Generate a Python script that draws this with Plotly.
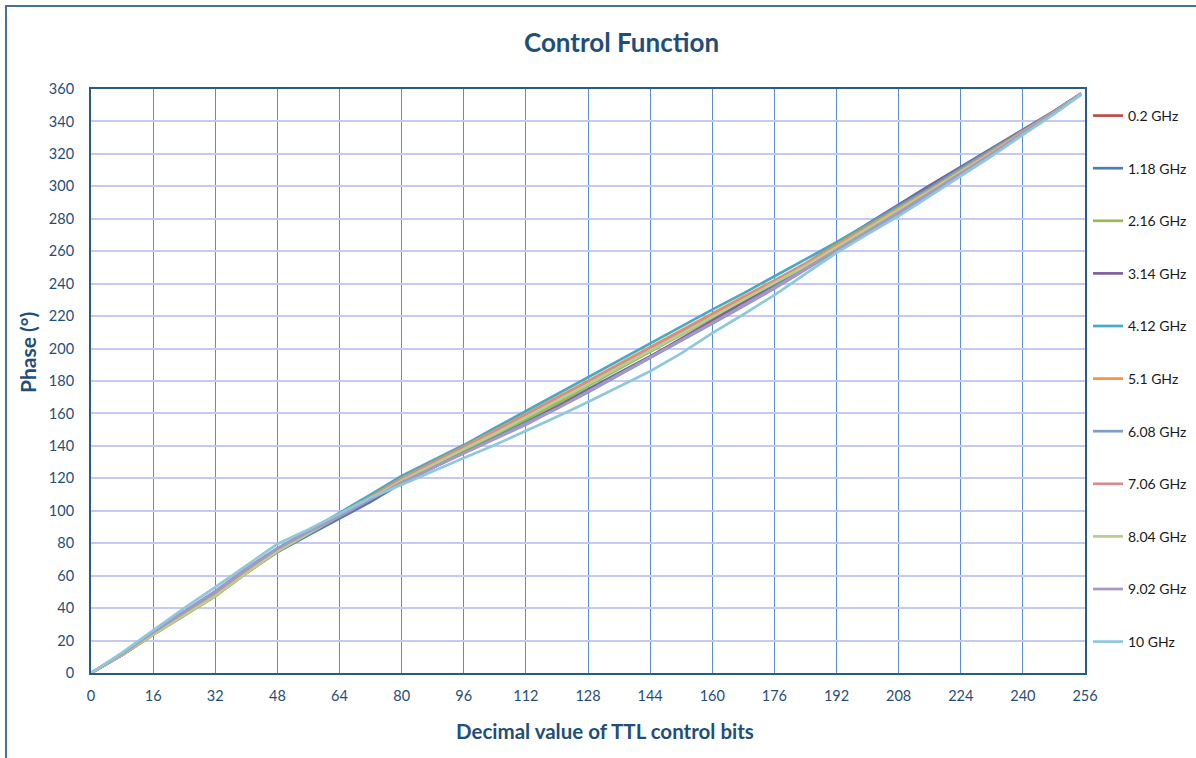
import plotly.graph_objects as go

# TTL control value (x) sample points
ttl = [0, 8, 16, 24, 32, 40, 48, 56, 64, 72, 80, 88, 96, 104, 112, 120, 128,
       136, 144, 152, 160, 168, 176, 184, 192, 200, 208, 216, 224, 232, 240, 248, 255]

series_names = ["0.2 GHz", "1.18 GHz", "2.16 GHz", "3.14 GHz", "4.12 GHz", "5.1 GHz",
                "6.08 GHz", "7.06 GHz", "8.04 GHz", "9.02 GHz", "10 GHz"]

phase_0_2 = [0, 11.0, 23.7, 35.5, 47.5, 61.5, 75.0, 86.5, 97.0, 107.5, 118.5, 128.0, 137.5, 147.5, 157.0, 167.0, 178.0,
             188.5, 199.0, 209.5, 219.5, 230.0, 240.5, 251.5, 263.5, 275.0, 286.5, 298.0, 310.0, 322.0, 334.0, 345.8, 357.0]
phase_1_18 = [0, 11.2, 24.0, 36.0, 48.2, 62.0, 74.5, 85.0, 95.0, 105.5, 117.0, 126.5, 136.0, 145.0, 154.5, 164.5, 175.0,
              185.0, 195.5, 205.5, 215.5, 226.5, 238.0, 250.0, 262.5, 274.5, 286.5, 298.5, 310.5, 322.0, 334.0, 345.8, 357.0]
phase_2_16 = [0, 11.0, 23.5, 35.3, 47.3, 61.5, 74.7, 86.0, 96.5, 107.0, 118.0, 127.5, 137.0, 146.5, 156.0, 166.0, 177.0,
              187.5, 197.5, 208.0, 218.5, 229.0, 240.0, 251.0, 262.5, 274.0, 285.5, 297.5, 309.5, 321.0, 333.5, 345.5, 357.0]
phase_3_14 = [0, 11.2, 24.0, 36.0, 48.0, 62.0, 75.0, 86.0, 96.0, 106.5, 117.5, 126.5, 135.5, 144.5, 154.0, 164.0, 174.0,
              184.5, 195.0, 206.0, 217.0, 228.5, 240.0, 252.0, 265.0, 277.0, 288.5, 300.5, 312.0, 323.5, 335.0, 346.3, 357.3]
phase_4_12 = [0, 11.8, 24.7, 36.5, 48.5, 62.5, 76.0, 87.5, 98.5, 110.0, 121.5, 131.0, 140.5, 151.0, 161.5, 171.5, 182.5,
              193.0, 203.5, 213.5, 224.0, 234.0, 244.5, 254.5, 265.5, 276.5, 287.5, 299.0, 311.0, 322.5, 334.5, 346.0, 357.2]
phase_5_1 = [0, 11.2, 24.0, 35.7, 47.7, 62.0, 75.5, 87.0, 97.5, 108.5, 120.0, 129.5, 139.5, 149.5, 159.5, 169.5, 180.0,
             190.5, 201.0, 211.0, 221.5, 232.0, 242.0, 252.5, 264.0, 275.0, 286.5, 298.0, 310.0, 321.5, 334.0, 345.7, 357.0]
phase_6_08 = [0, 12.0, 25.5, 38.0, 50.5, 64.5, 77.0, 87.5, 97.0, 107.0, 117.5, 126.5, 135.5, 144.5, 153.5, 163.0, 173.0,
              183.5, 194.0, 204.5, 215.5, 226.0, 237.0, 248.5, 260.0, 271.5, 283.0, 295.0, 307.5, 319.5, 332.5, 345.0, 356.7]
phase_7_06 = [0, 11.2, 24.0, 36.0, 48.0, 62.2, 75.5, 86.5, 97.0, 108.0, 119.5, 129.0, 139.0, 149.0, 159.0, 169.0, 179.5,
              190.0, 200.5, 210.5, 221.0, 231.0, 241.5, 252.0, 263.0, 274.5, 285.5, 297.5, 309.5, 321.3, 333.5, 345.5, 357.0]
phase_8_04 = [0, 11.2, 23.7, 35.5, 47.5, 61.5, 75.0, 86.0, 96.5, 107.5, 118.5, 128.5, 138.0, 147.5, 157.5, 167.5, 178.0,
              188.5, 198.5, 209.0, 219.5, 230.0, 240.5, 251.0, 262.5, 274.0, 285.0, 297.0, 309.0, 320.7, 333.2, 345.3, 357.0]
phase_9_02 = [0, 11.8, 25.0, 37.5, 50.0, 64.0, 76.5, 87.0, 96.5, 107.0, 117.5, 126.5, 135.5, 144.0, 153.0, 163.0, 173.5,
              184.0, 194.5, 205.0, 215.5, 226.5, 237.5, 249.0, 261.0, 272.5, 284.0, 296.0, 308.0, 320.0, 333.0, 345.2, 357.0]
phase_10 = [0, 12.5, 26.3, 40.0, 53.0, 66.5, 79.5, 88.5, 98.5, 108.0, 116.0, 124.5, 132.5, 140.5, 149.0, 158.0, 167.0,
            176.5, 186.0, 197.0, 209.5, 221.0, 233.0, 246.0, 259.0, 270.5, 281.7, 294.0, 306.2, 318.7, 331.7, 344.5, 356.5]

all_series = [phase_0_2, phase_1_18, phase_2_16, phase_3_14, phase_4_12, phase_5_1,
              phase_6_08, phase_7_06, phase_8_04, phase_9_02, phase_10]

colors = ["#BE4B48", "#4A7EBB", "#98B954", "#7D60A0", "#46AAC5", "#F69240",
          "#7F9DCB", "#D68C8C", "#B5CF8E", "#A797C2", "#8EC8DA"]

x_ticks = list(range(0, 257, 16))
y_ticks = list(range(0, 361, 20))

FONT = "Lato"
DARK = "#1F4E79"

W, H = 1196, 758
L, R, T, B = 91, 111, 89, 85
pw, ph = W - L - R, H - T - B


def px_x(p):
    return (p - L) / pw


def px_y(p):
    return (H - B - p) / ph


fig = go.Figure()
for name, vals, col in zip(series_names, all_series, colors):
    fig.add_trace(go.Scatter(x=ttl, y=vals, mode="lines", name=name, legendgroup=name,
                             line=dict(color=col, width=2.7)))

fig.update_layout(
    width=W, height=H,
    margin=dict(l=L, r=R, t=T, b=B, autoexpand=False),
    paper_bgcolor="white", plot_bgcolor="white",
    font=dict(family=FONT, color=DARK),
    showlegend=True,
    legend=dict(x=px_x(1088), xanchor="left", y=px_y(100), yanchor="top",
                font=dict(family=FONT, size=14, color="#1A1A1A"),
                tracegroupgap=31.4, bgcolor="rgba(0,0,0,0)", itemwidth=30),
    xaxis=dict(range=[0, 256], tickvals=x_ticks, showgrid=True, gridcolor="#5B8CD6", gridwidth=1.3,
               showline=True, linecolor="#2A5B84", linewidth=2, mirror=True, zeroline=False,
               ticks="", ticklabelstandoff=9, tickfont=dict(family=FONT, size=14.5, color=DARK)),
    yaxis=dict(range=[0, 360], tickvals=y_ticks, showgrid=True, gridcolor="#C6C8F5", gridwidth=2,
               showline=True, linecolor="#2A5B84", linewidth=2, mirror=True, zeroline=False,
               ticks="", ticklabelstandoff=12, tickfont=dict(family=FONT, size=14.5, color=DARK)),
    annotations=[
        dict(text="<b>Control Function</b>", xref="paper", yref="paper", x=px_x(621), y=px_y(42),
             showarrow=False, font=dict(family=FONT, size=26, color=DARK), xanchor="center", yanchor="middle"),
        dict(text="<b>Phase (°)</b>", xref="paper", yref="paper", x=px_x(27), y=px_y(353),
             showarrow=False, textangle=-90, font=dict(family=FONT, size=21, color=DARK),
             xanchor="center", yanchor="middle"),
        dict(text="<b>Decimal value of TTL control bits</b>", xref="paper", yref="paper", x=px_x(605), y=px_y(731),
             showarrow=False, font=dict(family=FONT, size=20.5, color=DARK), xanchor="center", yanchor="middle"),
    ],
    shapes=[
        dict(type="rect", xref="paper", yref="paper", x0=px_x(6), y0=px_y(6), x1=px_x(1300), y1=px_y(800),
             line=dict(color="#41719C", width=2), fillcolor="rgba(0,0,0,0)", layer="below"),
    ],
)

fig.write_html("out.html", config={"displayModeBar": False},
               post_script="document.body.style.margin='0';document.body.style.overflow='hidden';")
